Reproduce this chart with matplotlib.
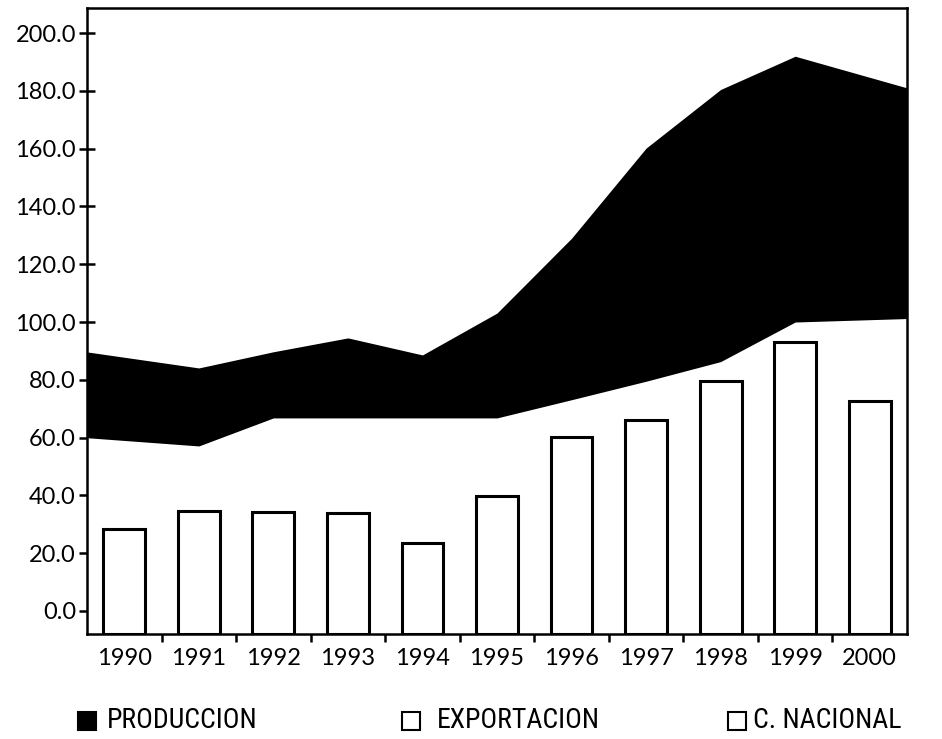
import matplotlib
matplotlib.use('Agg')
import matplotlib.pyplot as plt
import numpy as np
from matplotlib import font_manager
from matplotlib.patches import Rectangle
from matplotlib.ticker import FixedLocator, FormatStrFormatter

years = ['1990', '1991', '1992', '1993', '1994', '1995',
         '1996', '1997', '1998', '1999', '2000']
produccion = [87.8, 84.1, 89.7, 94.5, 88.6, 103.1, 129.0, 160.2, 180.5, 192.0, 184.7]
c_nacional = [59.0, 57.1, 66.8, 66.8, 66.8, 66.8, 73.1, 79.5, 86.3, 100.0, 100.8]
exportacion = [28.3, 34.6, 34.4, 33.8, 23.6, 39.8, 60.1, 66.1, 79.5, 93.2, 72.7]
y_ticks = [0, 20, 40, 60, 80, 100, 120, 140, 160, 180, 200]
legend_labels = ['PRODUCCION', 'EXPORTACION', 'C. NACIONAL']

Y_MIN, Y_MAX = -8, 208.7


def pick_font(names):
    have = {f.name for f in font_manager.fontManager.ttflist}
    for n in names:
        if n in have:
            return n
    return 'DejaVu Sans'


def to_edges(v):
    # area runs from one plot edge to the other, so stretch the end segments half a step
    v = np.asarray(v, float)
    left = v[0] - 0.5 * (v[1] - v[0])
    right = v[-1] + 0.5 * (v[-1] - v[-2])
    return np.r_[left, v, right]


tick_font = pick_font(['Lato', 'Open Sans', 'Liberation Sans'])
leg_font = pick_font(['Liberation Sans Narrow', 'Roboto Condensed', 'Lato', 'Liberation Sans'])

fig = plt.figure(figsize=(9.42, 7.39), dpi=100)
ax = fig.add_axes([87 / 942, 1 - 634 / 739, 820 / 942, 626 / 739])

x = np.arange(len(years))
xe = np.r_[-0.5, x, len(years) - 0.5]

ax.fill_between(xe, Y_MIN - 5, to_edges(produccion), color='black', lw=0, zorder=1)
ax.fill_between(xe, Y_MIN - 5, to_edges(c_nacional), color='white', lw=0, zorder=2)
# bars stand on the bottom of the frame, not on zero
ax.bar(x, np.asarray(exportacion) - Y_MIN, width=0.56, bottom=Y_MIN, color='white',
       edgecolor='black', linewidth=2.2, zorder=3)

ax.set_xlim(-0.5, len(years) - 0.5)
ax.set_ylim(Y_MIN, Y_MAX)

for s in ax.spines.values():
    s.set_linewidth(1.8)
    s.set_zorder(5)

ax.set_yticks(y_ticks)
ax.yaxis.set_major_formatter(FormatStrFormatter('%.1f'))
ax.tick_params(axis='y', direction='inout', length=12, width=1.8, pad=2,
               labelsize=17)
ax.set_xticks(x)
ax.set_xticklabels(years)
ax.xaxis.set_minor_locator(FixedLocator(x[:-1] + 0.5))
ax.tick_params(axis='x', which='major', length=0, pad=10, labelsize=17)
ax.tick_params(axis='x', which='minor', direction='inout', length=12, width=1.8)
for lab in ax.get_xticklabels() + ax.get_yticklabels():
    lab.set_family(tick_font)

# legend drawn by hand, spread across the bottom
leg_x = [78, 402, 728]
txt_x = [107, 437, 753]
fills = ['black', 'white', 'white']
for lx, tx, fc, lab in zip(leg_x, txt_x, fills, legend_labels):
    fig.patches.append(Rectangle((lx / 942, 1 - 730 / 739), 18 / 942, 18 / 739,
                                 transform=fig.transFigure, facecolor=fc,
                                 edgecolor='black', linewidth=1.5))
    fig.text(tx / 942, 1 - 721 / 739, lab, fontsize=20, family=leg_font,
             va='center', ha='left')

fig.savefig('out.png', dpi=100)
